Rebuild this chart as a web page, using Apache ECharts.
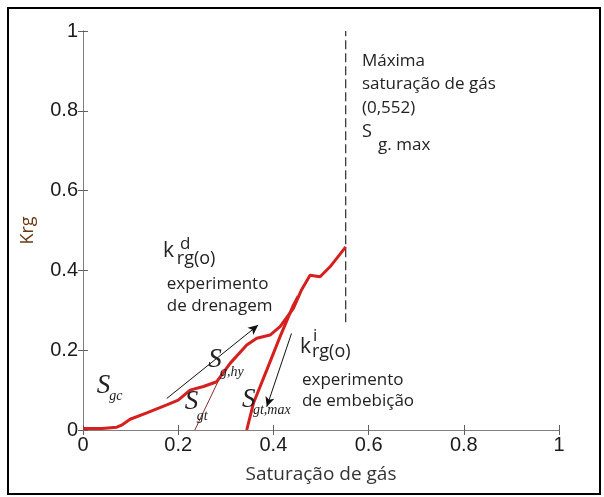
<!DOCTYPE html>
<html>
<head>
<meta charset="utf-8">
<script src="https://cdn.jsdelivr.net/npm/echarts@6/dist/echarts.min.js"></script>
<style>html,body{margin:0;padding:0;background:#fff}#c{width:604px;height:497px}</style>
</head>
<body>
<div id="c"></div>
<script>
// Drainage curve k_rg^d (Sg, Krg)
const drainage = [
  [0.000,0.004],[0.040,0.004],[0.071,0.007],[0.081,0.012],[0.099,0.027],[0.134,0.043],
  [0.176,0.063],[0.200,0.075],[0.225,0.100],[0.253,0.109],[0.281,0.121],[0.309,0.167],
  [0.344,0.213],[0.365,0.230],[0.393,0.238],[0.414,0.259],[0.442,0.305],[0.459,0.351],
  [0.477,0.388],[0.498,0.384],[0.519,0.409],[0.552,0.459]
];
// Imbibition curve k_rg^i
const imbibition = [
  [0.344,0.000],[0.358,0.067],[0.386,0.150],[0.414,0.234],[0.442,0.313],[0.452,0.335]
];
// Thin trapped-gas line S_gt
const trappedLine = [[0.235,0.000],[0.289,0.135]];
// Maximum gas saturation marker
const sgMax = 0.552;
const sgMaxLine = [[sgMax,0.27],[sgMax,1.0]];
// Arrows (start -> end)
const arrowDrain = [[0.176,0.079],[0.368,0.263]];
const arrowImb = [[0.438,0.242],[0.386,0.058]];
const xTicks = [0,0.2,0.4,0.6,0.8,1];
const yTicks = [0,0.2,0.4,0.6,0.8,1];

const sans = '"Open Sans", sans-serif';
const serif = '"Liberation Serif", "DejaVu Serif", serif';
const annotations = [
  {t:'Máxima', p:[0.586,0.925], f:17, ff:sans},
  {t:'saturação de gás', p:[0.586,0.867], f:17, ff:sans},
  {t:'(0,552)', p:[0.586,0.807], f:17, ff:sans},
  {t:'S', p:[0.586,0.747], f:18, ff:sans},
  {t:'g. max', p:[0.620,0.714], f:17, ff:sans},
  {t:'k', p:[0.168,0.449], f:21, ff:sans},
  {t:'d', p:[0.204,0.466], f:17, ff:sans},
  {t:'rg(o)', p:[0.197,0.429], f:18, ff:sans},
  {t:'experimento', p:[0.176,0.366], f:17, ff:sans},
  {t:'de drenagem', p:[0.176,0.311], f:17, ff:sans},
  {t:'k', p:[0.456,0.208], f:21, ff:sans},
  {t:'i', p:[0.483,0.236], f:17, ff:sans},
  {t:'rg(o)', p:[0.481,0.195], f:18, ff:sans},
  {t:'experimento', p:[0.460,0.125], f:17, ff:sans},
  {t:'de embebição', p:[0.460,0.073], f:17, ff:sans},
  {t:'S', p:[0.029,0.110], f:27, ff:serif, it:true},
  {t:'gc', p:[0.055,0.085], f:14, ff:serif, it:true},
  {t:'S', p:[0.263,0.175], f:27, ff:serif, it:true},
  {t:'g,hy', p:[0.288,0.145], f:14, ff:serif, it:true},
  {t:'S', p:[0.214,0.070], f:27, ff:serif, it:true},
  {t:'gt', p:[0.239,0.035], f:14, ff:serif, it:true},
  {t:'S', p:[0.334,0.075], f:27, ff:serif, it:true},
  {t:'gt,max', p:[0.357,0.050], f:14, ff:serif, it:true}
];

const chart = echarts.init(document.getElementById('c'), null, {renderer:'canvas'});
const axisCommon = {
  type:'value', min:0, max:1, interval:0.2,
  axisLine:{show:true, lineStyle:{color:'#808080', width:1}},
  axisTick:{show:true, inside:true, length:5, lineStyle:{color:'#606060'}},
  splitLine:{show:false}
};
const tickLabel = {fontSize:20, color:'#1a1a1a', fontFamily:'"Liberation Sans", Arial, sans-serif', margin:5};
const redStyle = {color:'#d61f1f', width:3};
chart.setOption({
  animation:false,
  backgroundColor:'#fff',
  grid:{left:83, top:31, right:45, bottom:67, containLabel:false},
  xAxis:[
    Object.assign({}, axisCommon, {position:'bottom', axisLabel:tickLabel,
      name:'Saturação de gás', nameLocation:'middle', nameGap:35,
      nameTextStyle:{fontSize:19, color:'#333', fontFamily:sans}}),
    Object.assign({}, axisCommon, {position:'top', axisLabel:{show:false}})
  ],
  yAxis:[
    Object.assign({}, axisCommon, {position:'left', axisLabel:tickLabel,
      name:'Krg', nameLocation:'middle', nameGap:46,
      nameTextStyle:{fontSize:18, color:'#6a3a14', fontFamily:sans}}),
    Object.assign({}, axisCommon, {position:'right', axisLabel:{show:false}})
  ],
  series:[
    {type:'line', data:sgMaxLine, symbol:'none', lineStyle:{color:'#000', width:1, type:[9,4]}, z:2},
    {type:'line', data:trappedLine, symbol:'none', lineStyle:{color:'#8b2a2a', width:1}, z:3},
    {type:'line', data:drainage, symbol:'none', lineStyle:redStyle, z:5},
    {type:'line', data:imbibition, symbol:'none', lineStyle:redStyle, z:5},
    {type:'line', data:[], symbol:'none', z:6,
      markLine:{silent:true, symbol:['none','arrow'], symbolSize:[7,10], label:{show:false},
        lineStyle:{color:'#111', width:1, type:'solid'},
        data:[
          [{coord:arrowDrain[0]},{coord:arrowDrain[1]}],
          [{coord:arrowImb[0]},{coord:arrowImb[1]}]
        ]}}
  ]
});

const graphics = [{type:'rect', shape:{x:8, y:8, width:592, height:486},
  style:{fill:'none', stroke:'#000', lineWidth:2}, z:100}];
annotations.forEach(a => {
  const px = chart.convertToPixel({gridIndex:0}, a.p);
  graphics.push({type:'text', x:px[0], y:px[1], z:50,
    style:{text:a.t, fontSize:a.f, fontFamily:a.ff, fontStyle:a.it?'italic':'normal',
      fill:'#222', align:'left', verticalAlign:'middle'}});
});
chart.setOption({graphic:graphics});
</script>
</body>
</html>
